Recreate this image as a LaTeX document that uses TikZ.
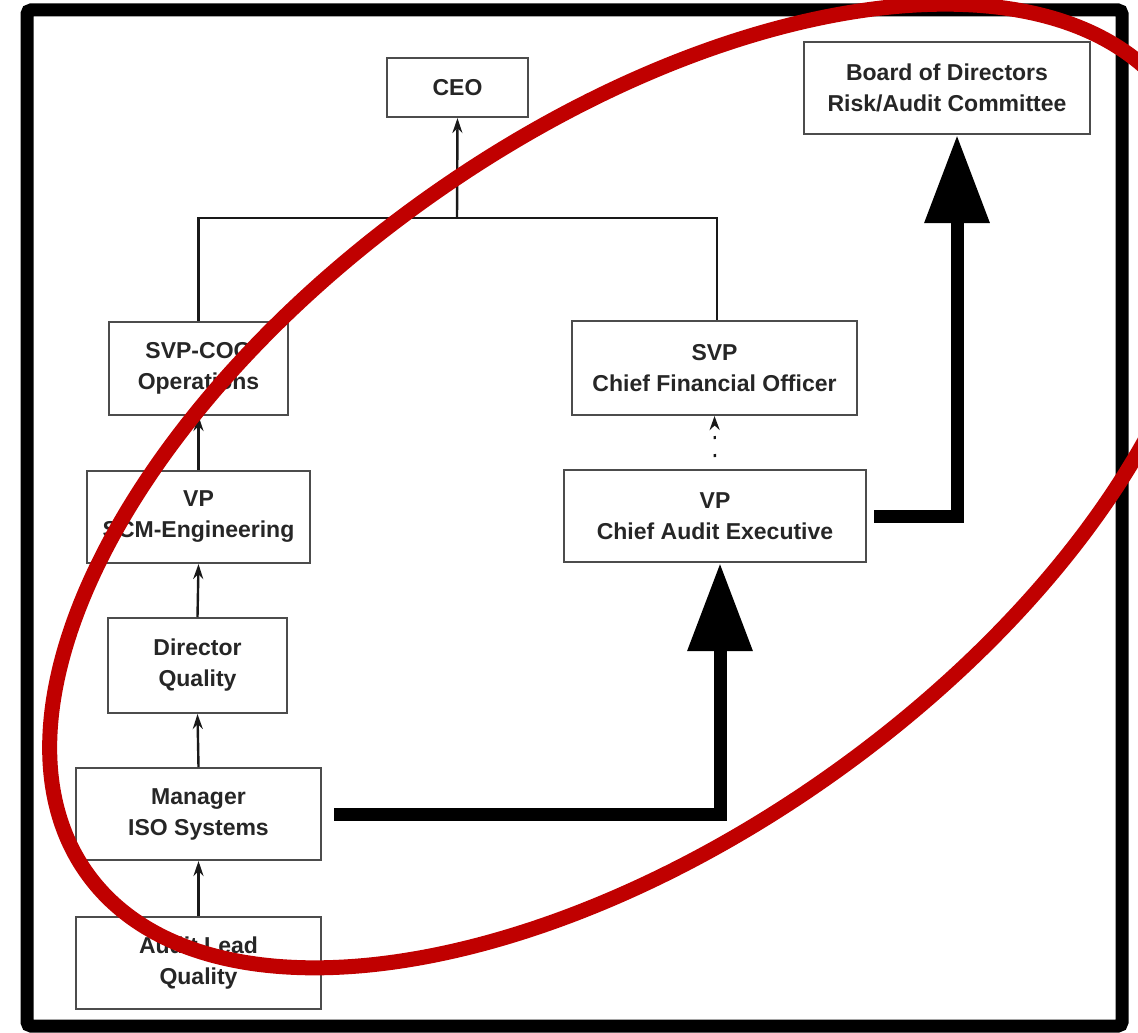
\documentclass[tikz,border=0pt]{standalone}
\usepackage{fontspec}
\setmainfont{Liberation Sans}
\usetikzlibrary{arrows.meta}
\definecolor{markred}{RGB}{192,0,0}
\begin{document}
\begin{tikzpicture}[x=0.5pt,y=-0.5pt,
  box/.style={draw=black!70, line width=1pt, fill=white, inner sep=0pt,
    align=center, text=black!85,
    font=\bfseries\fontsize{11.5}{15.5}\selectfont},
  link/.style={line width=1.2pt, draw=black!90},
  uparrow/.style={link, -{Stealth[length=7.5pt,width=5pt]}},
  dotarrow/.style={link, dash pattern=on 1.5pt off 7.5pt, dash phase=3pt,
    -{Stealth[length=7pt,width=5pt]}},
  heavy/.style={line width=6.5pt, line join=miter,
    -{Triangle[length=44pt,width=31pt]}},
  frame/.style={line width=6.5pt, rounded corners=2pt},
  redring/.style={draw=markred, line width=7.5pt}
]
\useasboundingbox (0,0) rectangle (1138,1032);
\fill[white] (0,0) rectangle (1138,1032);

% outer frame
\draw[frame] (27,10) rectangle (1122,1026);

% organisation boxes
\node[box, minimum width=70.5pt, minimum height=29.5pt] (ceo) at (457.5,87.5) {CEO};
\node[box, minimum width=143pt, minimum height=46pt] (board) at (947,88)
  {Board of Directors\\Risk/Audit Committee};
\node[box, minimum width=89.5pt, minimum height=46.5pt] (coo) at (198.5,368.5)
  {SVP-COO\\Operations};
\node[box, minimum width=142.5pt, minimum height=47pt] (cfo) at (714.5,368)
  {SVP\\Chief Financial Officer};
\node[box, minimum width=111.5pt, minimum height=46pt] (scm) at (198.5,517)
  {VP\\SCM-Engineering};
\node[box, minimum width=151pt, minimum height=46pt] (cae) at (715,516)
  {VP\\Chief Audit Executive};
\node[box, minimum width=89.5pt, minimum height=47.5pt] (dir) at (197.5,665.5)
  {Director\\Quality};
\node[box, minimum width=122.5pt, minimum height=46pt] (mgr) at (198.5,814)
  {Manager\\ISO Systems};
\node[box, minimum width=122.5pt, minimum height=46pt] (lead) at (198.5,963)
  {Audit Lead\\Quality};

% reporting lines
\coordinate (split) at (457,218);
\draw[link] (coo.north) |- (split) -| ([xshift=1.2pt]cfo.north);
\draw[uparrow] (split) -- (ceo.south);
\draw[uparrow] (scm.north) -- (coo.south);
\draw[uparrow] (dir.north) -- (scm.south);
\draw[uparrow] (mgr.north) -- (dir.south);
\draw[uparrow] (lead.north) -- (mgr.south);
\draw[dotarrow] (cae.north) -- (cfo.south);

% audit escalation path
\draw[heavy] ([xshift=6pt]mgr.east) -| ([xshift=2.5pt]cae.south);
\draw[heavy] ([xshift=3.5pt]cae.east) -| ([xshift=5pt]board.south);

% highlight ellipse
\draw[redring, rotate around={35.5:(630,486)}] (630,486) ellipse [x radius=667, y radius=352];
\end{tikzpicture}
\end{document}
